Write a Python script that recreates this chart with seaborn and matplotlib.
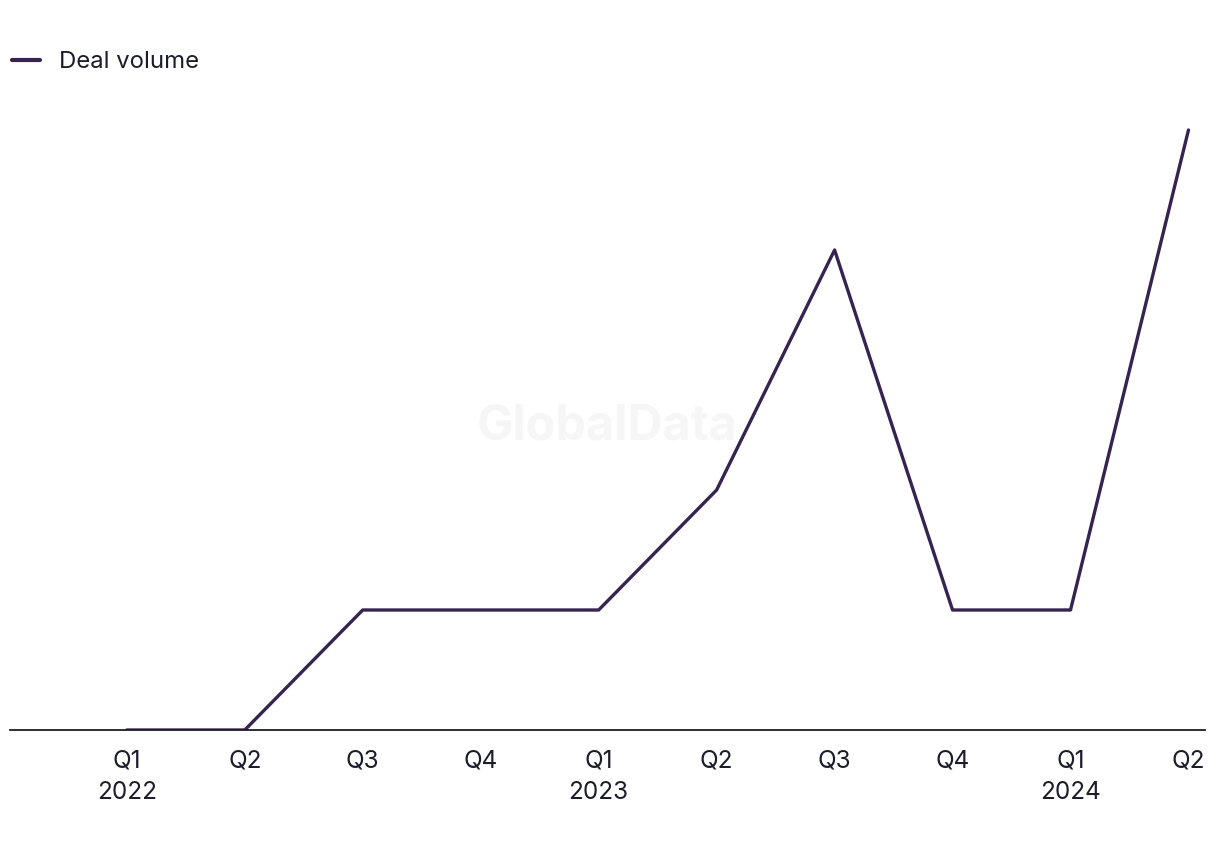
import matplotlib
matplotlib.use("Agg")
import matplotlib.pyplot as plt
import seaborn as sns
import pandas as pd
from matplotlib.lines import Line2D

quarters = ["Q1\n2022", "Q2", "Q3", "Q4", "Q1\n2023", "Q2", "Q3", "Q4", "Q1\n2024", "Q2"]
deal_volume = [0, 0, 1, 1, 1, 2, 4, 1, 1, 5]
series_name = "Deal volume"

sns.set_theme(style="white")
plt.rcParams["font.family"] = ["Inter", "DejaVu Sans"]

df = pd.DataFrame({"idx": range(len(quarters)), "value": deal_volume, "series": series_name})

fig = plt.figure(figsize=(12.2, 8.5), dpi=100)
ax = fig.add_axes([10 / 1220, 120 / 850, 1195 / 1220, 636 / 850])

fig.text(0.498, 1 - 427 / 850, "GlobalData", ha="center", va="center", fontsize=35,
         fontweight="bold", color="#f6f6f6", zorder=0)
ax.patch.set_alpha(0)

line_color = "#37234f"
sns.lineplot(data=df, x="idx", y="value", hue="series", palette=[line_color],
             linewidth=2.4, ax=ax, legend=False)

ax.set_xlim(-0.99, 9.14)
ax.set_ylim(0, 5.3)
ax.set_xticks(range(len(quarters)))
ax.set_xticklabels(quarters, fontsize=17.5, color="#1c1c2b", linespacing=1.45)
ax.set_yticks([])
ax.set_xlabel("")
ax.set_ylabel("")
ax.tick_params(axis="x", length=0, pad=14)
for s in ["top", "right", "left"]:
    ax.spines[s].set_visible(False)
ax.spines["bottom"].set_color("#1c1c2b")
ax.spines["bottom"].set_linewidth(1.3)

handle = Line2D([], [], color=line_color, linewidth=3)
fig.legend([handle], [series_name], loc="center left", bbox_to_anchor=(2 / 1220, 1 - 62 / 850),
           frameon=False, fontsize=17.2, handlelength=1.2, handletextpad=0.8,
           labelcolor="#1c1c2b", borderaxespad=0, borderpad=0.4)

fig.savefig("out.png", dpi=100)
